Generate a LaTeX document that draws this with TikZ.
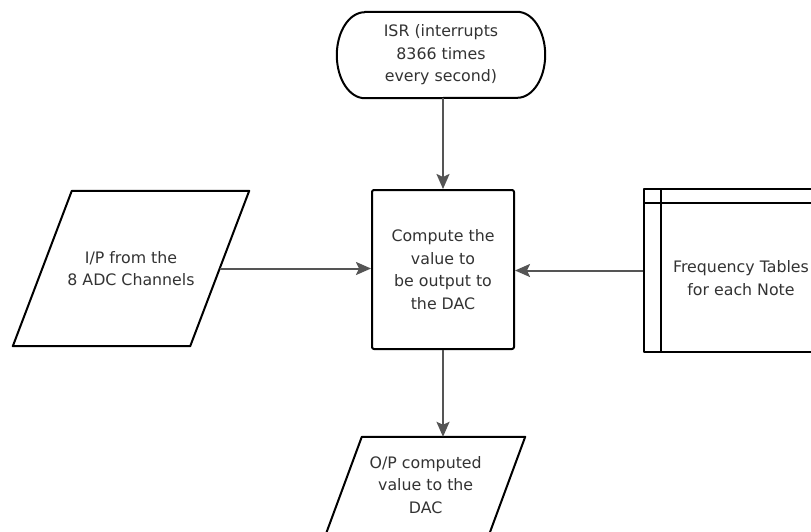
\documentclass[tikz,border=0pt]{standalone}
\usepackage{fontspec}
\setmainfont{DejaVu Sans}
\usetikzlibrary{arrows.meta}
\definecolor{txt}{HTML}{333333}
\definecolor{arr}{HTML}{555555}
\begin{document}
\begin{tikzpicture}[x=1pt,y=-1pt,
  every node/.style={font=\fontsize{15.8}{22.5}\selectfont, text=txt, align=center, inner sep=0pt},
  border/.style={draw=black, line width=2pt, line join=round},
  flow/.style={draw=arr, line width=2pt, -{Stealth[length=15pt,width=13pt,inset=3pt]}},
]
\fill[white] (0,0) rectangle (811,531);
\useasboundingbox (0,0) rectangle (811,531);

% process box
\node[border, rounded corners=2pt, minimum width=142pt, minimum height=159pt] (proc) at (443,269.5)
  {Compute the\\value to\\be output to\\the DAC};

% terminator
\node[minimum width=208pt, minimum height=86pt] (isr) at (441,55)
  {ISR (interrupts\\8366 times\\every second)};
\draw[border] ([xshift=28pt]isr.north west) -- ([xshift=-28pt]isr.north east)
  arc[start angle=90, end angle=-90, x radius=28pt, y radius=43pt]
  -- ([xshift=28pt]isr.south west)
  arc[start angle=270, end angle=90, x radius=28pt, y radius=43pt] -- cycle;

% input parallelogram
\node[minimum width=177pt, minimum height=155pt] (in) at (131,268.5)
  {I/P from the\\8 ADC Channels};
\draw[border] ([xshift=29.5pt]in.north west) -- ([xshift=29.5pt]in.north east)
  -- ([xshift=-29.5pt]in.south east) -- ([xshift=-29.5pt]in.south west) -- cycle;

% output parallelogram
\node[minimum width=163pt, minimum height=96pt] (out) at (425.7,485)
  {O/P computed\\value to the\\DAC};
\draw[border] ([xshift=17.8pt]out.north west) -- ([xshift=17.8pt]out.north east)
  -- ([xshift=-17.8pt]out.south east) -- ([xshift=-17.8pt]out.south west) -- cycle;

% internal storage (table)
\node[border, minimum width=176pt, minimum height=163pt] (tab) at (732,270.5) {};
\draw[border] ([xshift=18pt]tab.north west) -- ([xshift=18pt]tab.south west);
\draw[border] ([yshift=-15pt]tab.north west) -- ([yshift=-15pt]tab.north east);
\node (tabtxt) at (741,278) {Frequency Tables\\for each Note};

% connectors
\draw[flow] (isr.south -| proc.north) -- (proc.north);
\draw[flow] (in.east) -- (in.east -| proc.west);
\draw[flow] (tab.west) -- (tab.west -| proc.east);
\draw[flow] (proc.south) -- (proc.south |- out.north);
\end{tikzpicture}
\end{document}
